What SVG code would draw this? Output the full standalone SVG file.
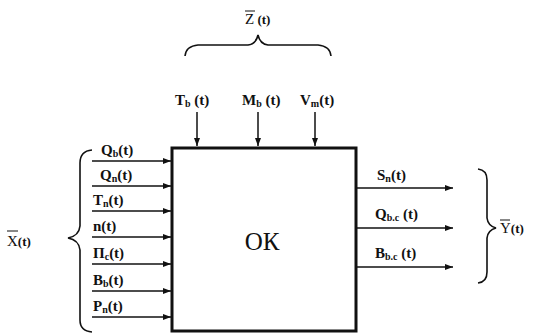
<svg xmlns="http://www.w3.org/2000/svg" width="533" height="333" viewBox="0 0 533 333">
<style>
.t{font-family:"Liberation Serif","Times New Roman",serif;font-size:15px;font-weight:bold;fill:#111}
.s{font-size:10px}
.ln{stroke:#111;stroke-width:1.5;fill:none}
.br{stroke:#111;stroke-width:1.6;fill:none}
</style>
<defs>
<marker id="ah" markerWidth="8" markerHeight="6" refX="8" refY="3" orient="auto" markerUnits="userSpaceOnUse">
<path d="M0,0 L8,3 L0,6 Z" fill="#111"/>
</marker>
</defs>
<rect width="533" height="333" fill="#fff"/>
<g id="box">
<rect x="172" y="148" width="184" height="183" fill="#fff" stroke="#111" stroke-width="3"/>
<text class="t" x="262" y="250" text-anchor="middle" style="font-size:25px;font-weight:normal">ОК</text>
</g>
<g id="connectors">
<line class="ln" x1="197" y1="112" x2="197" y2="146" marker-end="url(#ah)"/>
<line class="ln" x1="258" y1="112" x2="258" y2="146" marker-end="url(#ah)"/>
<line class="ln" x1="315" y1="112" x2="315" y2="146" marker-end="url(#ah)"/>
<line class="ln" x1="92" y1="161" x2="171" y2="161" marker-end="url(#ah)"/>
<line class="ln" x1="92" y1="186" x2="171" y2="186" marker-end="url(#ah)"/>
<line class="ln" x1="92" y1="211" x2="171" y2="211" marker-end="url(#ah)"/>
<line class="ln" x1="92" y1="237" x2="171" y2="237" marker-end="url(#ah)"/>
<line class="ln" x1="92" y1="264" x2="171" y2="264" marker-end="url(#ah)"/>
<line class="ln" x1="92" y1="291" x2="171" y2="291" marker-end="url(#ah)"/>
<line class="ln" x1="92" y1="317" x2="171" y2="317" marker-end="url(#ah)"/>
<line class="ln" x1="357" y1="188" x2="453" y2="188" marker-end="url(#ah)"/>
<line class="ln" x1="357" y1="228" x2="453" y2="228" marker-end="url(#ah)"/>
<line class="ln" x1="357" y1="267" x2="453" y2="267" marker-end="url(#ah)"/>
</g>
<g id="inputs-top">
<text class="t" x="175" y="105">T<tspan class="s" dy="2">b</tspan><tspan dy="-2"> (t)</tspan></text>
<text class="t" x="242" y="105">M<tspan class="s" dy="2">b</tspan><tspan dy="-2"> (t)</tspan></text>
<text class="t" x="300" y="105">V<tspan class="s" dy="2">m</tspan><tspan dy="-2">(t)</tspan></text>
<path class="br" d="M185,56 Q186,46 198,45 L248,45 Q256,44 258,35 Q260,44 268,45 L318,45 Q330,46 331,56"/>
<text class="t" x="245" y="24" style="font-weight:normal">Z<tspan style="font-weight:bold;font-size:13px"> (t)</tspan></text>
<line x1="245" y1="11" x2="255" y2="11" stroke="#111" stroke-width="1"/>
</g>
<g id="inputs-left">
<text class="t" x="101" y="155">Q<tspan class="s" dy="2">b</tspan><tspan dy="-2">(t)</tspan></text>
<text class="t" x="100" y="180">Q<tspan class="s" dy="2">n</tspan><tspan dy="-2">(t)</tspan></text>
<text class="t" x="93" y="205">T<tspan class="s" dy="2">n</tspan><tspan dy="-2">(t)</tspan></text>
<text class="t" x="93" y="231">n(t)</text>
<text class="t" x="93" y="258">П<tspan class="s" dy="2">c</tspan><tspan dy="-2">(t)</tspan></text>
<text class="t" x="93" y="285">B<tspan class="s" dy="2">b</tspan><tspan dy="-2">(t)</tspan></text>
<text class="t" x="93" y="311">P<tspan class="s" dy="2">n</tspan><tspan dy="-2">(t)</tspan></text>
<path class="br" d="M92,150 Q80,151 80,163 L80,226 Q79,236 68,238 Q79,240 80,250 L80,320 Q80,331 92,332"/>
<text class="t" x="7" y="246" style="font-weight:normal">X<tspan style="font-weight:bold;font-size:13px">(t)</tspan></text>
<line x1="7" y1="231" x2="18" y2="231" stroke="#111" stroke-width="1"/>
</g>
<g id="outputs">
<text class="t" x="377" y="180">S<tspan class="s" dy="2">n</tspan><tspan dy="-2">(t)</tspan></text>
<text class="t" x="375" y="219">Q<tspan class="s" dy="2">b.c</tspan><tspan dy="-2"> (t)</tspan></text>
<text class="t" x="375" y="258">B<tspan class="s" dy="2">b.c</tspan><tspan dy="-2"> (t)</tspan></text>
<path class="br" d="M478,169 Q487,170 487,180 L487,218 Q488,226 496,228 Q488,230 487,238 L487,272 Q487,282 478,283"/>
<text class="t" x="500" y="233" style="font-weight:normal">Y<tspan style="font-weight:bold;font-size:13px">(t)</tspan></text>
<line x1="500" y1="220" x2="510" y2="220" stroke="#111" stroke-width="1"/>
</g>
</svg>
